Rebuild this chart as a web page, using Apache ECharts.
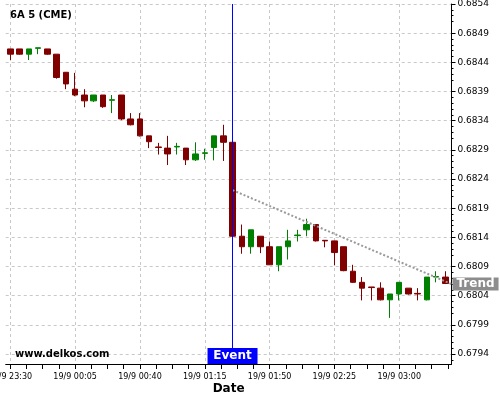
<!DOCTYPE html>
<html><head><meta charset="utf-8">
<script src="https://cdn.jsdelivr.net/npm/echarts@6/dist/echarts.min.js"></script>
<style>html,body{margin:0;padding:0;background:#fff}#c{width:500px;height:400px}</style>
</head><body><div id="c"></div>
<script>
const times = ['19/9 23:30','19/9 23:35','19/9 23:40','19/9 23:45','19/9 23:50','19/9 23:55',
'19/9 00:00','19/9 00:05','19/9 00:10','19/9 00:15','19/9 00:20','19/9 00:25','19/9 00:30','19/9 00:35',
'19/9 00:40','19/9 00:45','19/9 00:50','19/9 00:55','19/9 01:00','19/9 01:05','19/9 01:10','19/9 01:15',
'19/9 01:20','19/9 01:25','19/9 01:30','19/9 01:35','19/9 01:40','19/9 01:45','19/9 01:50','19/9 01:55',
'19/9 02:00','19/9 02:05','19/9 02:10','19/9 02:15','19/9 02:20','19/9 02:25','19/9 02:30','19/9 02:35',
'19/9 02:40','19/9 02:45','19/9 02:50','19/9 02:55','19/9 03:00','19/9 03:05','19/9 03:10','19/9 03:15',
'19/9 03:20','19/9 03:25'];
const open  = [0.68463,0.68463,0.68454,0.68464,0.68463,0.68454,0.68423,0.68394,0.68384,0.68374,0.68384,0.68375,
0.68384,0.68343,0.68343,0.68314,0.68295,0.68293,0.68295,0.68293,0.68273,0.68284,0.68294,0.68314,
0.68303,0.68142,0.68124,0.68142,0.68124,0.68093,0.68124,0.68143,0.68153,0.68162,0.68135,0.68134,
0.68124,0.68082,0.68063,0.68055,0.68053,0.68033,0.68043,0.68053,0.68044,0.68033,0.68072,0.68072];
const close = [0.68454,0.68454,0.68463,0.68465,0.68454,0.68414,0.68403,0.68384,0.68374,0.68384,0.68364,0.68376,
0.68343,0.68333,0.68314,0.68304,0.68294,0.68283,0.68296,0.68273,0.68283,0.68285,0.68314,0.68303,
0.68142,0.68124,0.68153,0.68124,0.68093,0.68124,0.68134,0.68144,0.68162,0.68134,0.68134,0.68114,
0.68083,0.68063,0.68053,0.68054,0.68033,0.68043,0.68063,0.68043,0.68043,0.68072,0.68073,0.68061];
const low   = [0.68444,0.68453,0.68444,0.68454,0.68453,0.68412,0.68394,0.68382,0.68363,0.68372,0.68362,0.68353,
0.68341,0.68332,0.68313,0.68293,0.68282,0.68264,0.68282,0.68264,0.68271,0.68273,0.68272,0.68271,
0.68142,0.68112,0.68112,0.68113,0.68093,0.68082,0.68102,0.68133,0.68142,0.68133,0.68123,0.68092,
0.68082,0.68062,0.68032,0.68032,0.68032,0.68002,0.68032,0.68042,0.68032,0.68032,0.68063,0.68060];
const high  = [0.68463,0.68463,0.68463,0.68465,0.68463,0.68454,0.68423,0.68422,0.68394,0.68384,0.68384,0.68384,
0.68384,0.68353,0.68353,0.68314,0.68302,0.68314,0.68302,0.68293,0.68303,0.68292,0.68314,0.68333,
0.68303,0.68162,0.68153,0.68142,0.68133,0.68124,0.68153,0.68153,0.68172,0.68162,0.68135,0.68134,
0.68124,0.68093,0.68072,0.68055,0.68063,0.68043,0.68063,0.68053,0.68053,0.68072,0.68082,0.68082];
const yTickLabels = [0.6794,0.6799,0.6804,0.6809,0.6814,0.6819,0.6824,0.6829,0.6834,0.6839,0.6844,0.6849,0.6854];
const xLabelIdx = [0,7,14,21,28,35,42];
const xTickIdx = [0,1.75,3.5,5.25,7,8.75,10.5,12.25,14,15.75,17.5,19.25,21,22.75,24.5,26.25,28,29.75,31.5,33.25,35,36.75,38.5,40.25,42,43.75,45.5,47.25];
const eventIndex = 24;
const trendX = [24, 47.65];
const trendY = [0.68221, 0.68060];
const yMin = 0.67923, yMax = 0.6854;
const xMin = -0.5, xMax = 47.65;

const FONT = 'DejaVu Sans';
const candles = open.map((o, i) => [i, o, close[i], low[i], high[i]]);
const trend = trendX.map((x, i) => [x, trendY[i]]);

const chart = echarts.init(document.getElementById('c'), null, {renderer: 'canvas'});
chart.setOption({
  backgroundColor: '#fff',
  animation: false,
  title: [
    {text: '6A 5 (CME)', left: 10, top: 10, padding: 0,
     textStyle: {fontFamily: FONT, fontSize: 10, fontWeight: 'bold', color: '#000'}},
    {text: 'www.delkos.com', left: 15, top: 349, padding: 0,
     textStyle: {fontFamily: FONT, fontSize: 10, fontWeight: 'bold', color: '#000'}}
  ],
  grid: {left: 5.7, right: 48.5, top: 4, bottom: 36, containLabel: false, outerBoundsMode: 'none'},
  xAxis: [
    {type: 'value', min: xMin, max: xMax, position: 'bottom',
     axisLine: {show: true, onZero: false, lineStyle: {color: '#000', width: 1}},
     axisTick: {show: true, customValues: xTickIdx, length: 5, lineStyle: {color: '#000'}},
     axisLabel: {show: true, customValues: xLabelIdx, formatter: v => times[Math.round(v)],
       color: '#000', fontFamily: FONT, fontSize: 8, margin: 9},
     splitLine: {show: false},
     name: 'Date', nameLocation: 'middle', nameGap: 19, nameMoveOverlap: false,
     nameTextStyle: {fontFamily: FONT, fontSize: 12, fontWeight: 'bold', color: '#000'}},
    {type: 'value', min: xMin, max: xMax, position: 'top',
     axisLine: {show: false}, axisLabel: {show: false},
     axisTick: {show: false, customValues: xLabelIdx},
     splitLine: {show: true, lineStyle: {color: '#c8c8c8', type: [3, 3], width: 1}}}
  ],
  yAxis: [
    {type: 'value', min: yMin, max: yMax, position: 'right', splitNumber: 6, scale: true,
     axisLine: {show: true, onZero: false, lineStyle: {color: '#000', width: 1}},
     axisTick: {show: true, customValues: yTickLabels, length: 4, lineStyle: {color: '#000'}},
     minorTick: {show: true, splitNumber: 10, length: 2, lineStyle: {color: '#000'}},
     axisLabel: {show: true, customValues: yTickLabels, formatter: v => v.toFixed(4),
       color: '#000', fontFamily: FONT, fontSize: 9, margin: 6},
     splitLine: {show: true, lineStyle: {color: '#c8c8c8', type: [3, 3], width: 1}}}
  ],
  series: [
    {type: 'candlestick', xAxisIndex: 0, yAxisIndex: 0, data: candles, barWidth: 6,
     itemStyle: {color: '#008000', color0: '#800000', borderColor: '#008000', borderColor0: '#800000', borderWidth: 1},
     markLine: {silent: true, symbol: ['none', 'none'], animation: false, z: 10,
       lineStyle: {color: '#0000ff', width: 1, type: 'solid', opacity: 1},
       emphasis: {disabled: true},
       label: {show: false},
       data: [{xAxis: eventIndex, lineStyle: {color: '#0000ff', width: 1, type: 'solid'}}]},
     markPoint: {silent: true, animation: false, z: 11,
       data: [{coord: [eventIndex, yMin], symbol: 'rect', symbolSize: [50, 16], symbolOffset: [0, '-50%'],
         itemStyle: {color: '#0000ff'},
         label: {show: true, position: 'inside', formatter: 'Event', color: '#fff', fontFamily: FONT, fontSize: 12, fontWeight: 'bold'}}]}
    },
    {type: 'line', xAxisIndex: 0, yAxisIndex: 0, data: trend, symbol: 'none', silent: true, z: 3,
     lineStyle: {color: '#999', width: 2, type: [2, 2]},
     endLabel: {show: true, formatter: 'Trend', color: '#fff', backgroundColor: '#8c8c8c', fontFamily: FONT,
       fontSize: 12, fontWeight: 'bold', padding: [1, 4, 0, 4], distance: 1}}
  ]
});
</script></body></html>
